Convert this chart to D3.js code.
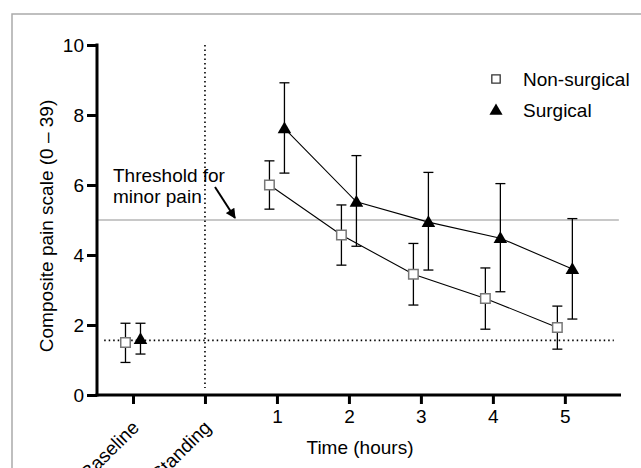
<!DOCTYPE html>
<html>
<head>
<meta charset="utf-8">
<script src="https://cdn.jsdelivr.net/npm/d3@7"></script>
<style>
  body { margin: 0; background: #fff; }
  svg text { font-family: "Liberation Sans", Arial, sans-serif; fill: #000; }
</style>
</head>
<body>
<svg id="chart" width="641" height="468"></svg>
<script>
// categories along the x axis (index = position)
const categories = ["Baseline", "Standing", "1", "2", "3", "4", "5"];
const hourIdx = [2, 3, 4, 5, 6];

// non-surgical: mean, lower, upper
const nonSurgBase = { mean: 1.5, lo: 0.93, hi: 2.05 };
const nonSurgMean = [6.0, 4.57, 3.45, 2.76, 1.93];
const nonSurgLo   = [5.31, 3.71, 2.57, 1.88, 1.31];
const nonSurgHi   = [6.69, 5.43, 4.33, 3.63, 2.54];

// surgical
const surgBase = { mean: 1.6, lo: 1.17, hi: 2.05 };
const surgMean = [7.62, 5.52, 4.94, 4.48, 3.6];
const surgLo   = [6.34, 4.25, 3.57, 2.95, 2.17];
const surgHi   = [8.92, 6.84, 6.36, 6.04, 5.04];

const threshold = 5;
const baselineRef = 1.56;
const yTicks = [0, 2, 4, 6, 8, 10];

const FS = "19px";
const svg = d3.select("#chart");

// outer frame (partly cut off in the original)
svg.append("path")
  .attr("d", "M12,468 L12,14 L641,14")
  .attr("fill", "none")
  .attr("stroke", "#aaa")
  .attr("stroke-width", 1.5);

const x = d3.scaleLinear().domain([-0.5, 6.78]).range([97, 621]);
const y = d3.scaleLinear().domain([0, 10]).range([395, 45]);
const off = 7.5;

const g = svg.append("g");

// reference lines
g.append("line")
  .attr("x1", x(-0.5)).attr("x2", x(6.75))
  .attr("y1", y(threshold)).attr("y2", y(threshold))
  .attr("stroke", "#c8c8c8").attr("stroke-width", 2);

g.append("line")
  .attr("x1", x(-0.4)).attr("x2", x(6.68))
  .attr("y1", y(baselineRef)).attr("y2", y(baselineRef))
  .attr("stroke", "#000").attr("stroke-width", 1.6)
  .attr("stroke-dasharray", "1.5,3");

g.append("line")
  .attr("x1", x(1)).attr("x2", x(1))
  .attr("y1", y(10)).attr("y2", y(0.2))
  .attr("stroke", "#000").attr("stroke-width", 1.6)
  .attr("stroke-dasharray", "1.5,3");

// axes
const yAxis = g.append("g")
  .attr("transform", `translate(${x(-0.5)},0)`)
  .call(d3.axisLeft(y).tickValues(yTicks).tickSize(10).tickPadding(3));
yAxis.select(".domain").attr("stroke-width", 3).attr("d", `M0,${y(10) - 1.5}V${y(0) + 1.5}`);
yAxis.selectAll(".tick line").attr("stroke-width", 3);
yAxis.selectAll(".tick text").style("font-size", FS).attr("dy", "0.35em");

const xAxis = g.append("g")
  .attr("transform", `translate(0,${y(0)})`)
  .call(d3.axisBottom(x).tickValues(d3.range(categories.length)).tickSize(9)
    .tickFormat(i => categories[i]));
xAxis.select(".domain").attr("stroke-width", 3).attr("d", `M${x(-0.5) - 1.5},0H${x(6.78)}`);
xAxis.selectAll(".tick line").attr("stroke-width", 3);
xAxis.selectAll(".tick text")
  .style("font-size", FS)
  .attr("y", 15)
  .each(function (i) {
    if (i < 2) {
      d3.select(this)
        .attr("text-anchor", "end")
        .attr("x", 0).attr("y", 0).attr("dy", "0.35em")
        .attr("transform", "translate(2,29) rotate(-45)");
    }
  });

// axis titles
svg.append("text")
  .attr("x", 360).attr("y", 454)
  .attr("text-anchor", "middle")
  .style("font-size", FS)
  .text("Time (hours)");

svg.append("text")
  .attr("transform", `translate(53,${y(5) + 6}) rotate(-90)`)
  .attr("text-anchor", "middle")
  .style("font-size", FS)
  .text("Composite pain scale (0 – 39)");

// threshold annotation
const ann = svg.append("text").style("font-size", FS);
ann.append("tspan").attr("x", 113).attr("y", 182).text("Threshold for");
ann.append("tspan").attr("x", 113).attr("y", 203).text("minor pain");

svg.append("defs").append("marker")
  .attr("id", "arrow").attr("viewBox", "0 0 10 10")
  .attr("refX", 9).attr("refY", 5)
  .attr("markerWidth", 12).attr("markerHeight", 10)
  .attr("markerUnits", "userSpaceOnUse")
  .attr("orient", "auto")
  .append("path").attr("d", "M0,0 L10,5 L0,10 z").attr("fill", "#000");

svg.append("line")
  .attr("x1", 215).attr("y1", 187).attr("x2", 235).attr("y2", 218)
  .attr("stroke", "#000").attr("stroke-width", 2)
  .attr("marker-end", "url(#arrow)");

// build series rows
function rows(base, mean, lo, hi, dx) {
  const r = [{ pos: 0, mean: base.mean, lo: base.lo, hi: base.hi, dx }];
  hourIdx.forEach((p, i) => r.push({ pos: p, mean: mean[i], lo: lo[i], hi: hi[i], dx }));
  return r;
}
const nonSurg = rows(nonSurgBase, nonSurgMean, nonSurgLo, nonSurgHi, -off);
const surg = rows(surgBase, surgMean, surgLo, surgHi, off);

const line = d3.line().x(d => x(d.pos) + d.dx).y(d => y(d.mean));

[nonSurg, surg].forEach(s => {
  g.append("path")
    .datum(s.slice(1))
    .attr("d", line)
    .attr("fill", "none")
    .attr("stroke", "#000")
    .attr("stroke-width", 1.1);

  const eb = g.append("g").selectAll("g").data(s).join("g")
    .attr("stroke", "#000").attr("stroke-width", 1.3);
  eb.append("line")
    .attr("x1", d => x(d.pos) + d.dx).attr("x2", d => x(d.pos) + d.dx)
    .attr("y1", d => y(d.lo)).attr("y2", d => y(d.hi));
  eb.append("line")
    .attr("x1", d => x(d.pos) + d.dx - 5).attr("x2", d => x(d.pos) + d.dx + 5)
    .attr("y1", d => y(d.lo)).attr("y2", d => y(d.lo));
  eb.append("line")
    .attr("x1", d => x(d.pos) + d.dx - 5).attr("x2", d => x(d.pos) + d.dx + 5)
    .attr("y1", d => y(d.hi)).attr("y2", d => y(d.hi));
});

const sqSym = d3.symbol().type(d3.symbolSquare).size(90);
const triSym = d3.symbol().type(d3.symbolTriangle).size(80);

g.selectAll(".sq").data(nonSurg).join("path")
  .attr("class", "sq")
  .attr("d", sqSym)
  .attr("transform", d => `translate(${x(d.pos) + d.dx},${y(d.mean)})`)
  .attr("fill", "#fff").attr("stroke", "#777").attr("stroke-width", 1.5);

g.selectAll(".tri").data(surg).join("path")
  .attr("class", "tri")
  .attr("d", triSym)
  .attr("transform", d => `translate(${x(d.pos) + d.dx},${y(d.mean) + 1})`)
  .attr("fill", "#000");

// legend
const leg = svg.append("g");
leg.append("path").attr("d", d3.symbol().type(d3.symbolSquare).size(70))
  .attr("transform", "translate(496,79)")
  .attr("fill", "#fff").attr("stroke", "#333").attr("stroke-width", 1.3);
leg.append("path").attr("d", d3.symbol().type(d3.symbolTriangle).size(75))
  .attr("transform", "translate(496,111)")
  .attr("fill", "#000");
leg.append("text").attr("x", 523).attr("y", 86).style("font-size", FS).text("Non-surgical");
leg.append("text").attr("x", 523).attr("y", 117).style("font-size", FS).text("Surgical");
</script>
</body>
</html>
